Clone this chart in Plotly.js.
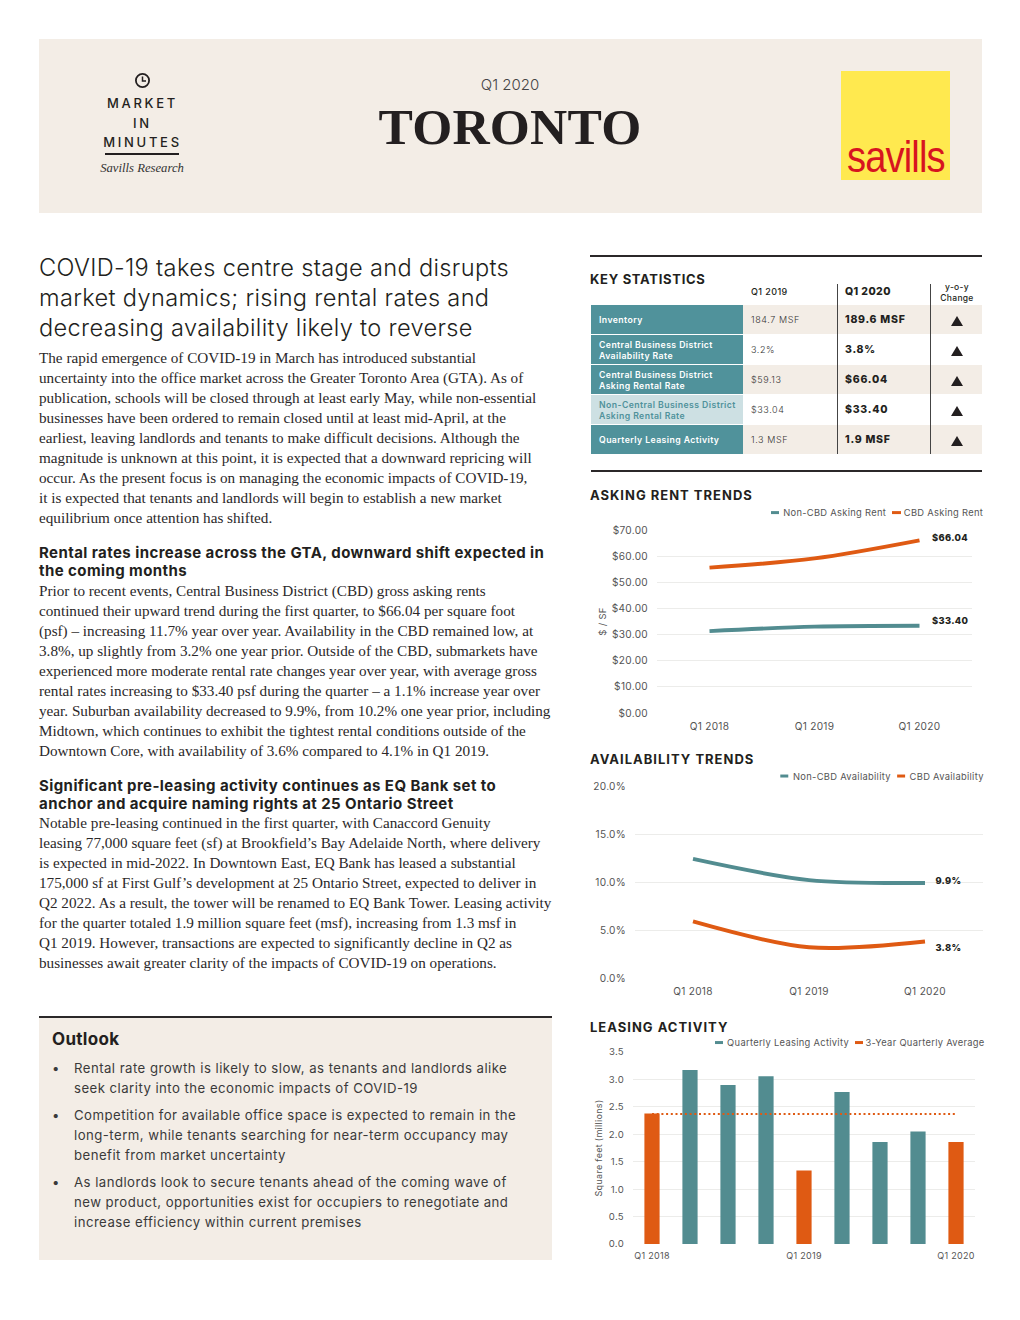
<!DOCTYPE html>
<html><head><meta charset="utf-8">
<script src="https://cdn.plot.ly/plotly-3.0.1.min.js"></script>
<style>
html,body{margin:0;padding:0;background:#fff;width:1020px;height:1320px;overflow:hidden}
.a{position:absolute;white-space:pre;color:#231f20;font-family:Inter,sans-serif}
.serif{font-family:"Liberation Serif",serif;font-size:15.2px;line-height:20px;color:#2b2829}
.sub{font-weight:700;font-size:15px;line-height:17.5px;letter-spacing:.42px}
.head{font-weight:300;font-size:23.6px;line-height:30px;letter-spacing:.33px}
.bul{font-weight:400;font-size:13.2px;line-height:20px;letter-spacing:.46px;color:#3a3a3a}
.sec{font-weight:700;font-size:13px;letter-spacing:1px;line-height:16px}
.box{position:absolute}
.chart{position:absolute}
.chart text{letter-spacing:.3px}
</style></head><body>
<div id="page"></div>
<div id="rent" class="chart" style="left:585px;top:500px;width:400px;height:240px"></div>
<div id="avail" class="chart" style="left:585px;top:765px;width:400px;height:240px"></div>
<div id="leasing" class="chart" style="left:585px;top:1032px;width:400px;height:236px"></div>
<script>
// ---- chart data ----
const trendYears = ['Q1 2018','Q1 2019','Q1 2020'];
const rentNonCbd = [31.3,33.04,33.40];
const rentCbd = [55.6,59.13,66.04];
const availNonCbd = [12.4,10.2,9.9];
const availCbd = [5.9,3.2,3.8];
const leaseQuarters = ['Q1 2018','Q2 2018','Q3 2018','Q4 2018','Q1 2019','Q2 2019','Q3 2019','Q4 2019','Q1 2020'];
const leaseValues = [2.38,3.17,2.90,3.06,1.34,2.77,1.86,2.05,1.86];
const leaseAverage = [2.37,2.37,2.37,2.37,2.37,2.37,2.37,2.37,2.37];
// ---- table data ----
const statLabels = ['Inventory','Central Business District\nAvailability Rate','Central Business District\nAsking Rental Rate','Non-Central Business District\nAsking Rental Rate','Quarterly Leasing Activity'];
const stat2019 = ['184.7 MSF','3.2%','$59.13','$33.04','1.3 MSF'];
const stat2020 = ['189.6 MSF','3.8%','$66.04','$33.40','1.9 MSF'];
// ---- text ----
const headline = 'COVID-19 takes centre stage and disrupts\nmarket dynamics; rising rental rates and\ndecreasing availability likely to reverse';
const body1 = `The rapid emergence of COVID-19 in March has introduced substantial
uncertainty into the office market across the Greater Toronto Area (GTA). As of
publication, schools will be closed through at least early May, while non-essential
businesses have been ordered to remain closed until at least mid-April, at the
earliest, leaving landlords and tenants to make difficult decisions. Although the
magnitude is unknown at this point, it is expected that a downward repricing will
occur. As the present focus is on managing the economic impacts of COVID-19,
it is expected that tenants and landlords will begin to establish a new market
equilibrium once attention has shifted.`;
const sub2 = 'Rental rates increase across the GTA, downward shift expected in\nthe coming months';
const body2 = `Prior to recent events, Central Business District (CBD) gross asking rents
continued their upward trend during the first quarter, to $66.04 per square foot
(psf) – increasing 11.7% year over year. Availability in the CBD remained low, at
3.8%, up slightly from 3.2% one year prior. Outside of the CBD, submarkets have
experienced more moderate rental rate changes year over year, with average gross
rental rates increasing to $33.40 psf during the quarter – a 1.1% increase year over
year. Suburban availability decreased to 9.9%, from 10.2% one year prior, including
Midtown, which continues to exhibit the tightest rental conditions outside of the
Downtown Core, with availability of 3.6% compared to 4.1% in Q1 2019.`;
const sub3 = 'Significant pre-leasing activity continues as EQ Bank set to\nanchor and acquire naming rights at 25 Ontario Street';
const body3 = `Notable pre-leasing continued in the first quarter, with Canaccord Genuity
leasing 77,000 square feet (sf) at Brookfield’s Bay Adelaide North, where delivery
is expected in mid-2022. In Downtown East, EQ Bank has leased a substantial
175,000 sf at First Gulf’s development at 25 Ontario Street, expected to deliver in
Q2 2022. As a result, the tower will be renamed to EQ Bank Tower. Leasing activity
for the quarter totaled 1.9 million square feet (msf), increasing from 1.3 msf in
Q1 2019. However, transactions are expected to significantly decline in Q2 as
businesses await greater clarity of the impacts of COVID-19 on operations.`;
const outlook = ['Rental rate growth is likely to slow, as tenants and landlords alike\nseek clarity into the economic impacts of COVID-19',
 'Competition for available office space is expected to remain in the\nlong-term, while tenants searching for near-term occupancy may\nbenefit from market uncertainty',
 'As landlords look to secure tenants ahead of the coming wave of\nnew product, opportunities exist for occupiers to renegotiate and\nincrease efficiency within current premises'];

const TEAL='#50929b', BEIGE='#f3ede6', ORANGE='#df5a13', LINE_TEAL='#528c90', INK='#231f20', GREY='#555';
const page=document.getElementById('page');
function box(l,t,w,h,c){const d=document.createElement('div');d.className='box';d.style.cssText=`left:${l}px;top:${t}px;width:${w}px;height:${h}px;background:${c}`;page.appendChild(d);return d;}
function txt(s,l,t,cls,style){const d=document.createElement('div');d.className='a '+(cls||'');d.textContent=s;d.style.left=l+'px';d.style.top=t+'px';if(style)d.style.cssText+=';'+style;page.appendChild(d);return d;}
function ctr(s,cx,t,cls,style){const d=txt(s,cx,t,cls,style);d.style.transform='translateX(-50%)';d.style.textAlign='center';return d;}

// header
box(39,39,943,174,BEIGE);
const clock=document.createElement('div');clock.className='box';clock.style.cssText='left:134px;top:72px';
clock.innerHTML='<svg width="17" height="17" viewBox="0 0 17 17"><circle cx="8.5" cy="8.5" r="6.6" fill="none" stroke="#231f20" stroke-width="1.8"/><path d="M8.5 4.5V9H12" fill="none" stroke="#231f20" stroke-width="1.5"/></svg>';
page.appendChild(clock);
ctr('MARKET',142.5,95,'','font-size:13px;font-weight:500;letter-spacing:2.7px;line-height:16px');
ctr('IN',142.5,115,'','font-size:13px;font-weight:500;letter-spacing:2.7px;line-height:16px');
ctr('MINUTES',142.5,134,'','font-size:13px;font-weight:500;letter-spacing:2.7px;line-height:16px');
box(105,153,74,2,INK);
ctr('Savills Research',142,160,'','font-family:"Liberation Serif",serif;font-style:italic;font-size:12.7px;line-height:16px;color:#333');
ctr('Q1 2020',510,76,'','font-size:15px;font-weight:300;line-height:18px;color:#444');
ctr('TORONTO',510,97,'','font-family:"Liberation Serif",serif;font-weight:700;font-size:51.5px;line-height:60px;letter-spacing:.2px');
box(841,71,109,109,'#ffe94f');
txt('savills',847,127,'','font-family:"Liberation Sans",sans-serif;font-size:44px;line-height:60px;color:#d7141f;letter-spacing:-1px;transform:scaleX(.866);transform-origin:left');

// left column
txt(headline,39,253,'head');
txt(body1,39,348,'serif');
txt(sub2,39,544,'sub');
txt(body2,39,581,'serif');
txt(sub3,39,777,'sub');
txt(body3,39,813,'serif');
box(39,1016,513,244,BEIGE);
box(39,1016,513,2,'#2b2829');
txt('Outlook',52,1029,'','font-weight:700;font-size:17px;line-height:20px;letter-spacing:.3px');
let y=1058;
outlook.forEach(o=>{txt('•',52,y,'bul');txt(o,74,y,'bul');y+=o.split('\n').length*20+7;});

// key statistics
box(590,255,392,2,'#2b2829');
txt('KEY STATISTICS',590,271,'sec','letter-spacing:.7px');
txt('Q1 2019',751,286,'','font-size:9px;font-weight:500;letter-spacing:.4px;line-height:12px');
txt('Q1 2020',845,285,'','font-size:10.5px;font-weight:800;letter-spacing:.4px;line-height:14px');
ctr('y-o-y\nChange',957,282,'','font-size:8.5px;font-weight:500;letter-spacing:.3px;line-height:10.5px');
const rowTop=[305,335,365,395,425], rowH=29;
statLabels.forEach((lab,i)=>{
  const t=rowTop[i];
  const soft=lab.startsWith('Non-');
  box(591,t,152,rowH,soft?'#cde0e3':TEAL);
  if(i%2==0) box(743,t,239,rowH,BEIGE);
  const two=lab.includes('\n');
  txt(lab,599,t+(two?5:10),'',`font-size:8.7px;font-weight:600;letter-spacing:.42px;line-height:11px;color:${soft?TEAL:'#fff'}`);
  txt(stat2019[i],751,t+9,'','font-size:9px;font-weight:300;letter-spacing:.6px;line-height:12px;color:#333');
  txt(stat2020[i],845,t+8,'','font-size:10.5px;font-weight:800;letter-spacing:.75px;line-height:14px');
  const tri=box(950.5,t+11,0,0,'transparent');
  tri.style.borderLeft='6.5px solid transparent';tri.style.borderRight='6.5px solid transparent';tri.style.borderBottom='10px solid '+INK;
});
box(837,284,1.3,170,'#444');
box(930,284,1.3,170,'#444');
box(591,470,391,2,'#2b2829');
txt('ASKING RENT TRENDS',590,487,'sec');
txt('AVAILABILITY TRENDS',590,751,'sec');
txt('LEASING ACTIVITY',590,1019,'sec');

// charts
const tickFont={family:'Inter, sans-serif',size:10.1,color:GREY};
function frame(cfg){
  const plotW=cfg.right-cfg.left, plotH=cfg.bottom-cfg.top;
  const px=x=>(x-cfg.left)/plotW, py=yy=>(cfg.bottom-yy)/plotH;
  const legendAnn=cfg.legend.map(g=>({xref:'paper',yref:'paper',x:px(g.end),y:py(cfg.legendY),xanchor:'right',yanchor:'middle',showarrow:false,text:g.text,font:{family:'Inter, sans-serif',size:9.35,color:GREY}}));
  const legendShapes=cfg.legend.map(g=>({type:'rect',xref:'paper',yref:'paper',x0:px(g.sw0),x1:px(g.sw1),y0:py(cfg.legendY+1.5),y1:py(cfg.legendY-1.5),fillcolor:g.color,line:{width:0}}));
  return {
    width:cfg.W,height:cfg.H,paper_bgcolor:'rgba(0,0,0,0)',plot_bgcolor:'rgba(0,0,0,0)',showlegend:false,bargap:0.6,
    margin:{l:cfg.left-cfg.X,r:cfg.X+cfg.W-cfg.right,t:cfg.top-cfg.Y,b:cfg.Y+cfg.H-cfg.bottom,pad:0},
    annotations:legendAnn.concat(cfg.ann||[]),shapes:legendShapes,
    xaxis:Object.assign({type:'category',showgrid:false,zeroline:false,showline:false,ticks:'',tickfont:tickFont,fixedrange:true,ticklabelstandoff:6,range:[-0.5,2.5]},cfg.xaxis||{}),
    yaxis:Object.assign({showgrid:true,gridcolor:'#ececea',gridwidth:1,zeroline:false,showline:false,ticks:'',tickfont:tickFont,fixedrange:true,ticklabelstandoff:8},cfg.yaxis||{})
  };
}
const valueFont={family:'Inter, sans-serif',size:9.3,color:INK,weight:800};
function endLabel(x,y,text,xs,ys){return {xref:'x',yref:'y',x,y,text,showarrow:false,xanchor:'left',yanchor:'middle',xshift:xs,yshift:ys,font:valueFont};}
function smooth(name,x,y,color){return {type:'scatter',mode:'lines',name,x,y,line:{color,width:3.9,shape:'spline',smoothing:0.9},hoverinfo:'skip'};}
const opts={staticPlot:true,displayModeBar:false};

Plotly.newPlot('rent',[
  smooth('Non-CBD Asking Rent',trendYears,rentNonCbd,LINE_TEAL),
  smooth('CBD Asking Rent',trendYears,rentCbd,ORANGE)
],frame({X:585,Y:500,W:400,H:240,left:657,right:972,top:529.5,bottom:713.5,legendY:512,
  legend:[{text:'Non-CBD Asking Rent',end:885,sw0:771,sw1:779,color:LINE_TEAL},{text:'CBD Asking Rent',end:983,sw0:892,sw1:901,color:ORANGE}],
  yaxis:{range:[0,70],dtick:10,tickprefix:'$',tickformat:'.2f',title:{text:'$ / SF',font:{family:'Inter, sans-serif',size:9.6,color:GREY},standoff:5}},
  ann:[endLabel('Q1 2020',66.04,'$66.04',11,3),endLabel('Q1 2020',33.40,'$33.40',11,5)]
}),opts);

Plotly.newPlot('avail',[
  smooth('Non-CBD Availability',trendYears,availNonCbd,LINE_TEAL),
  smooth('CBD Availability',trendYears,availCbd,ORANGE)
],frame({X:585,Y:765,W:400,H:240,left:634.5,right:983,top:786,bottom:978.5,legendY:776,
  legend:[{text:'Non-CBD Availability',end:889.5,sw0:780,sw1:788,color:LINE_TEAL},{text:'CBD Availability',end:983,sw0:897,sw1:905,color:ORANGE}],
  yaxis:{range:[0,20],dtick:5,ticksuffix:'%',tickformat:'.1f'},
  ann:[endLabel('Q1 2020',9.9,'9.9%',9,2),endLabel('Q1 2020',3.8,'3.8%',9,-6)]
}),opts);

Plotly.newPlot('leasing',[
  {type:'bar',name:'Quarterly Leasing Activity',x:leaseQuarters,y:leaseValues,marker:{color:leaseQuarters.map(q=>q.startsWith('Q1')?ORANGE:LINE_TEAL),line:{width:0}},hoverinfo:'skip'},
  {type:'scatter',mode:'lines',name:'3-Year Quarterly Average',x:leaseQuarters,y:leaseAverage,line:{color:ORANGE,width:2,dash:'2px,2.7px'},hoverinfo:'skip'}
],frame({X:585,Y:1032,W:400,H:236,left:633,right:975,top:1051.5,bottom:1244.5,legendY:1042,
  legend:[{text:'Quarterly Leasing Activity',end:847,sw0:715,sw1:723,color:LINE_TEAL},{text:'3-Year Quarterly Average',end:983,sw0:855,sw1:863,color:ORANGE}],
  xaxis:{range:[-0.5,8.5],tickvals:leaseQuarters.filter(q=>q.startsWith('Q1')),ticktext:leaseQuarters.filter(q=>q.startsWith('Q1')),tickfont:{family:'Inter, sans-serif',size:9,color:GREY},ticklabelstandoff:5},
  yaxis:{range:[0,3.5],dtick:0.5,tickformat:'.1f',tickfont:{family:'Inter, sans-serif',size:9.6,color:GREY},title:{text:'Square feet (millions)',font:{family:'Inter, sans-serif',size:9,color:GREY},standoff:5}},
}),opts);
</script>
</body></html>
